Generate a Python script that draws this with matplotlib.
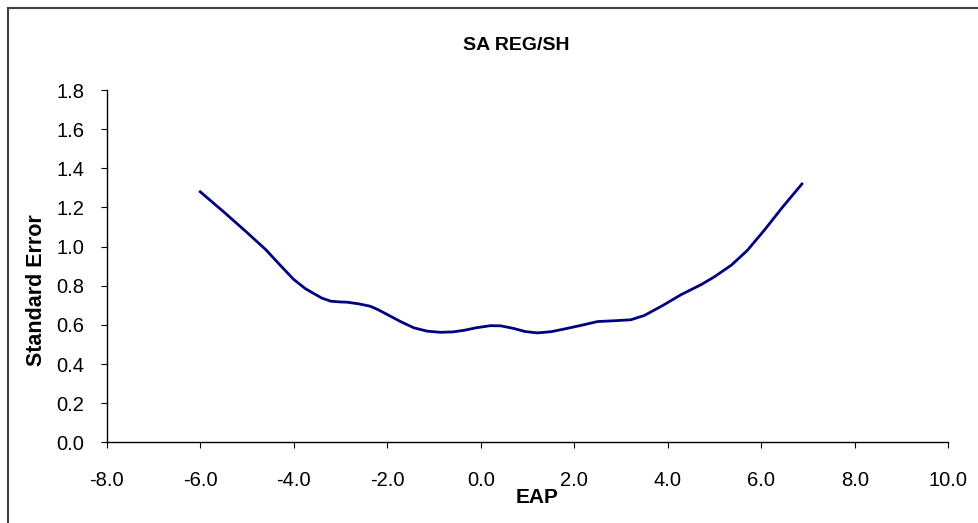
import numpy as np
import matplotlib.pyplot as plt
from matplotlib.patches import Rectangle

plt.rcParams['font.family'] = ['Liberation Sans', 'DejaVu Sans']

# values
eap = [-6.0, -5.5, -5.0, -4.6, -4.29, -4.0, -3.75, -3.57, -3.4, -3.21, -3.0,
       -2.86, -2.6, -2.36, -2.2, -2.0, -1.7, -1.43, -1.15, -0.86, -0.6,
       -0.36, -0.1, 0.21, 0.43, 0.7, 0.95, 1.21, 1.5, 1.79, 2.1, 2.5,
       2.85, 3.21, 3.5, 3.9, 4.29, 4.71, 5.0, 5.36, 5.7, 6.07, 6.45, 6.87]
se = [1.28, 1.178, 1.072, 0.985, 0.905, 0.832, 0.785, 0.76, 0.737, 0.721, 0.717,
      0.716, 0.707, 0.695, 0.678, 0.653, 0.615, 0.585, 0.568, 0.562, 0.564,
      0.572, 0.585, 0.596, 0.595, 0.582, 0.566, 0.559, 0.565, 0.579, 0.595, 0.617,
      0.621, 0.626, 0.648, 0.70, 0.755, 0.805, 0.846, 0.905, 0.98, 1.085, 1.20, 1.32]

xticks = np.arange(-8, 10.1, 2)
yticks = np.arange(0, 1.81, 0.2)

fig = plt.figure(figsize=(9.79, 5.23), dpi=100)
ax = fig.add_axes([0.109, 0.1543, 0.8596, 0.6736])

ax.plot(eap, se, color='#000080', linewidth=2.0, solid_joinstyle='round')

ax.set_xlim(-8, 10)
ax.set_ylim(0, 1.8)
ax.set_xticks(xticks)
ax.set_yticks(yticks)
ax.set_xticklabels([f'{v:.1f}' for v in xticks])
ax.set_yticklabels([f'{v:.1f}' for v in yticks])
ax.tick_params(axis='x', direction='out', length=4.5, pad=16.5, labelsize=14.5)
ax.tick_params(axis='y', direction='out', length=4.5, pad=11.5, labelsize=14.5)
for s in ['top', 'right']:
    ax.spines[s].set_visible(False)
for s in ['left', 'bottom']:
    ax.spines[s].set_linewidth(1.0)

fig.text(0.527, 0.905, 'SA REG/SH', ha='center', va='baseline',
         fontsize=14, fontweight='bold')
fig.text(0.0368, 0.4445, 'Standard Error', ha='center', va='center',
         rotation=90, fontsize=15.5, fontweight='bold')
fig.text(0.5485, 0.0382, 'EAP', ha='center', va='baseline',
         fontsize=15, fontweight='bold')

# outer chart frame
fig.patches.append(Rectangle((0.008, -0.1), 1.5, 1.085, transform=fig.transFigure,
                             fill=False, edgecolor='#404040', linewidth=1.5))

fig.savefig('out.png', dpi=100)
